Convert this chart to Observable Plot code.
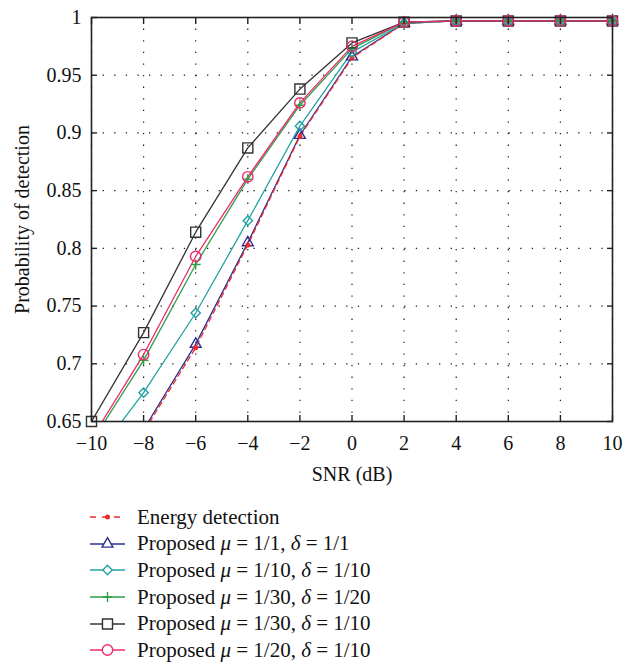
<!DOCTYPE html>
<html><head><meta charset="utf-8">
<script src="https://cdn.jsdelivr.net/npm/d3@7"></script>
<script src="https://cdn.jsdelivr.net/npm/@observablehq/plot@0.6"></script>
<style>
body{margin:0;background:#fff;font-family:"Liberation Serif",serif;}
#legend{margin-top:14px;padding-left:89px;font-size:21px;color:#111}
.row{display:flex;align-items:center;height:26.6px;white-space:nowrap}
.row svg{margin-right:11px;flex:none}
</style></head><body>
<div id="chart"></div><div id="legend"></div>
<script>
const snr = [-10, -8, -6, -4, -2, 0, 2, 4, 6, 8, 10];
const energy = [0.580, 0.641, 0.714, 0.803, 0.897, 0.965, 0.995, 0.997, 0.997, 0.997, 0.997];
const p1_1   = [0.582, 0.643, 0.717, 0.805, 0.898, 0.966, 0.995, 0.997, 0.997, 0.997, 0.997];
const p10_10 = [0.615, 0.675, 0.744, 0.824, 0.906, 0.970, 0.995, 0.997, 0.997, 0.997, 0.997];
const p30_20 = [0.632, 0.703, 0.786, 0.860, 0.924, 0.973, 0.996, 0.997, 0.997, 0.997, 0.997];
const p30_10 = [0.650, 0.727, 0.814, 0.887, 0.938, 0.978, 0.996, 0.997, 0.997, 0.997, 0.997];
const p20_10 = [0.635, 0.708, 0.793, 0.862, 0.926, 0.975, 0.996, 0.997, 0.997, 0.997, 0.997];

const seriesNames = [
  "Energy detection",
  "Proposed μ = 1/1, δ = 1/1",
  "Proposed μ = 1/10, δ = 1/10",
  "Proposed μ = 1/30, δ = 1/20",
  "Proposed μ = 1/30, δ = 1/10",
  "Proposed μ = 1/20, δ = 1/10"
];
const seriesValues = [energy, p1_1, p10_10, p30_20, p30_10, p20_10];
const colors  = ["#ee2b2b", "#2e3192", "#22a3a3", "#2f9e46", "#333333", "#ec2b6c"];
const symbols = ["circle", "triangle2", "diamond2", "plus", "square2", "circle"];
const radii   = [1.8, 5.2, 4.2, 3.3, 6.4, 5.2];
const xTicks = [-10, -8, -6, -4, -2, 0, 2, 4, 6, 8, 10];
const yTicks = [0.65, 0.7, 0.75, 0.8, 0.85, 0.9, 0.95, 1];
const xLabel = "SNR (dB)";
const yLabel = "Probability of detection";

// draw order (bottom to top)
const order = [1, 0, 2, 3, 4, 5];

const rows = [];
seriesNames.forEach((name, i) => {
  snr.forEach((x, j) => rows.push({series: i, x, y: seriesValues[i][j]}));
});

const fmtX = d => String(d).replace("-", "\u2212");
const fmtY = d => String(+d.toFixed(2));

const marks = [
  Plot.gridX(xTicks, {stroke: "#000", strokeOpacity: 0.9, strokeWidth: 1.2, strokeDasharray: "1.3,10.3"}),
  Plot.gridY(yTicks, {stroke: "#000", strokeOpacity: 0.9, strokeWidth: 1.2, strokeDasharray: "1.3,10.3"}),
];
order.forEach(i => {
  const d = rows.filter(r => r.series === i);
  marks.push(Plot.line(d, {x: "x", y: "y", stroke: colors[i], strokeWidth: 1.3,
    strokeDasharray: i === 0 ? "5,4" : null, clip: true}));
});
order.forEach(i => {
  const d = rows.filter(r => r.series === i && r.y >= 0.65);
  marks.push(Plot.dot(d, {x: "x", y: "y", symbol: symbols[i], r: radii[i],
    stroke: colors[i], fill: i === 0 ? colors[i] : "none", strokeWidth: 1.4}));
});
marks.push(
  Plot.frame({stroke: "#222", strokeWidth: 1.6}),
  Plot.axisX(xTicks, {anchor: "bottom", tickSize: -6, tickFormat: () => "", label: null, stroke: "#222", strokeWidth: 1.4}),
  Plot.axisX(xTicks, {anchor: "top", tickSize: -6, tickFormat: () => "", label: null, stroke: "#222", strokeWidth: 1.4}),
  Plot.axisY(yTicks, {anchor: "left", tickSize: -6, tickFormat: () => "", label: null, stroke: "#222", strokeWidth: 1.4}),
  Plot.axisY(yTicks, {anchor: "right", tickSize: -6, tickFormat: () => "", label: null, stroke: "#222", strokeWidth: 1.4}),
  Plot.axisX(xTicks, {anchor: "bottom", tickSize: 0, tickPadding: 14, tickFormat: fmtX, label: null, fill: "#111"}),
  Plot.axisY(yTicks, {anchor: "left", tickSize: 0, tickPadding: 10, tickFormat: fmtY, label: null, fill: "#111"}),
  Plot.text([xLabel], {frameAnchor: "bottom", text: d => d, dy: 59, textAnchor: "middle", fill: "#111", fontSize: 20}),
  Plot.text([yLabel], {frameAnchor: "left", text: d => d, rotate: -90, dx: -69, textAnchor: "middle", lineAnchor: "middle", fill: "#111", fontSize: 20})
);

const chart = Plot.plot({
  width: 633, height: 490,
  marginLeft: 91, marginRight: 21, marginTop: 17, marginBottom: 69,
  style: {fontFamily: "'Liberation Serif', serif", fontSize: "20px", background: "#fff", color: "#111"},
  x: {domain: [-10, 10]},
  y: {domain: [0.65, 1]},
  marks
});
document.getElementById("chart").appendChild(chart);

// legend
const legend = document.getElementById("legend");
seriesNames.forEach((name, i) => {
  const row = document.createElement("div");
  row.className = "row";
  const svg = d3.create("svg").attr("width", 37).attr("height", 20);
  svg.append("line").attr("x1", 1).attr("x2", 36).attr("y1", 10).attr("y2", 10)
    .attr("stroke", colors[i]).attr("stroke-width", 1.4)
    .attr("stroke-dasharray", i === 0 ? "6,6" : null);
  const size = Math.PI * radii[i] * radii[i];
  const symMap = {circle: d3.symbolCircle, triangle2: d3.symbolTriangle2, diamond2: d3.symbolDiamond2, plus: d3.symbolPlus, square2: d3.symbolSquare2};
  svg.append("path").attr("transform", "translate(18.5,10)")
    .attr("d", d3.symbol(symMap[symbols[i]], size)())
    .attr("fill", i === 0 ? colors[i] : "#fff").attr("stroke", colors[i]).attr("stroke-width", 1.4);
  row.appendChild(svg.node());
  const span = document.createElement("span");
  span.innerHTML = name.replace(/([μδ])/g, "<i>$1</i>");
  row.appendChild(span);
  legend.appendChild(row);
});
</script>
</body></html>
